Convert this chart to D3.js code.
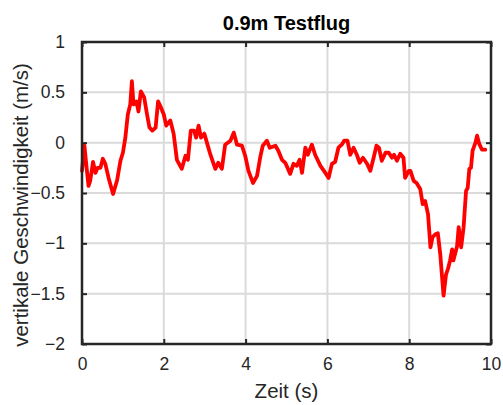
<!DOCTYPE html>
<html>
<head>
<meta charset="utf-8">
<script src="https://cdn.jsdelivr.net/npm/d3@7"></script>
<style>
  body { margin: 0; background: #fff; }
  svg { display: block; font-family: "Liberation Sans", Arial, sans-serif; }
</style>
</head>
<body>
<div id="chart"></div>
<script>
// time (s) and vertical velocity (m/s)
const zeit = [0.00, 0.03, 0.06, 0.10, 0.16, 0.20, 0.27, 0.33, 0.38, 0.45, 0.51, 0.57, 0.65, 0.76, 0.86,
  0.94, 1.00, 1.06, 1.12, 1.18, 1.22, 1.26, 1.33, 1.38, 1.44, 1.52, 1.59, 1.65, 1.72, 1.80, 1.86, 1.93,
  2.00, 2.06, 2.16, 2.24, 2.32, 2.44, 2.53, 2.59, 2.66, 2.74, 2.79, 2.85, 2.91, 2.99, 3.04, 3.14, 3.26,
  3.33, 3.42, 3.50, 3.63, 3.71, 3.79, 3.91, 3.99, 4.07, 4.18, 4.28, 4.36, 4.42, 4.52, 4.59, 4.73, 4.80,
  4.89, 4.97, 5.09, 5.17, 5.25, 5.32, 5.38, 5.46, 5.52, 5.62, 5.70, 5.83, 5.95, 6.03, 6.11, 6.19, 6.27,
  6.35, 6.41, 6.49, 6.56, 6.64, 6.72, 6.79, 6.87, 6.97, 7.05, 7.13, 7.20, 7.26, 7.33, 7.42, 7.50, 7.58,
  7.63, 7.70, 7.78, 7.86, 7.90, 7.99, 8.03, 8.11, 8.18, 8.27, 8.33, 8.39, 8.46, 8.52, 8.57, 8.64, 8.70,
  8.76, 8.84, 8.90, 8.95, 9.00, 9.05, 9.08, 9.17, 9.21, 9.27, 9.33, 9.39, 9.43, 9.47, 9.51, 9.55, 9.62,
  9.66, 9.71, 9.78, 9.86];
const geschw = [-0.28, -0.15, -0.03, -0.20, -0.43, -0.38, -0.19, -0.30, -0.25, -0.25, -0.16, -0.21, -0.35, -0.51, -0.37,
  -0.18, -0.10, 0.05, 0.28, 0.38, 0.61, 0.38, 0.41, 0.31, 0.51, 0.45, 0.28, 0.15, 0.12, 0.15, 0.41, 0.35,
  0.28, 0.17, 0.22, 0.09, -0.17, -0.26, -0.13, -0.17, 0.12, 0.12, 0.05, 0.17, 0.05, 0.09, 0.02, -0.12, -0.26,
  -0.20, -0.26, -0.02, 0.02, 0.10, -0.02, -0.03, -0.13, -0.28, -0.40, -0.33, -0.14, -0.03, 0.02, -0.05, -0.03, -0.08,
  -0.17, -0.20, -0.31, -0.21, -0.23, -0.17, -0.30, -0.05, -0.12, -0.02, -0.12, -0.23, -0.30, -0.35, -0.21, -0.19, -0.05,
  -0.02, 0.02, 0.02, -0.12, -0.05, -0.12, -0.20, -0.15, -0.21, -0.28, -0.15, -0.03, -0.05, -0.18, -0.10, -0.10, -0.15,
  -0.12, -0.18, -0.11, -0.15, -0.35, -0.28, -0.28, -0.38, -0.40, -0.46, -0.61, -0.58, -0.71, -1.04, -0.94, -0.91, -0.90,
  -1.11, -1.52, -1.31, -1.25, -1.17, -1.06, -1.17, -1.03, -0.84, -1.04, -0.84, -0.48, -0.45, -0.26, -0.25, -0.08, 0.00,
  0.07, -0.01, -0.07, -0.07];

const xTicks = [0, 2, 4, 6, 8, 10];
const yTicks = [-2, -1.5, -1, -0.5, 0, 0.5, 1];

const width = 503, height = 405;
const margin = { top: 42, right: 12, bottom: 61, left: 82 };
const innerW = width - margin.left - margin.right;
const innerH = height - margin.top - margin.bottom;

const svg = d3.select('#chart').append('svg')
  .attr('width', width)
  .attr('height', height);

const g = svg.append('g')
  .attr('transform', `translate(${margin.left},${margin.top})`);

const x = d3.scaleLinear().domain([0, 10]).range([0, innerW]);
const y = d3.scaleLinear().domain([-2, 1]).range([innerH, 0]);

// grid
g.append('g').selectAll('line').data(xTicks).enter().append('line')
  .attr('x1', d => x(d)).attr('x2', d => x(d))
  .attr('y1', 0).attr('y2', innerH)
  .attr('stroke', '#dadada').attr('stroke-width', 2);
g.append('g').selectAll('line').data(yTicks).enter().append('line')
  .attr('x1', 0).attr('x2', innerW)
  .attr('y1', d => y(d)).attr('y2', d => y(d))
  .attr('stroke', '#dadada').attr('stroke-width', 2);

// data line
const pts = zeit.map((t, i) => [t, geschw[i]]);
g.append('path')
  .datum(pts)
  .attr('fill', 'none')
  .attr('stroke', '#ff0000')
  .attr('stroke-width', 3.8)
  .attr('stroke-linejoin', 'round')
  .attr('stroke-linecap', 'round')
  .attr('d', d3.line().x(d => x(d[0])).y(d => y(d[1])));

// axes, ticks pointing inward, box on all sides
const axisColor = '#262626';
function styleAxis(sel) {
  sel.select('.domain').remove();
  sel.selectAll('.tick line').attr('stroke', axisColor).attr('stroke-width', 2);
  sel.selectAll('.tick text').attr('fill', axisColor).style('font-size', '17.5px');
}

g.append('g')
  .attr('transform', `translate(0,${innerH})`)
  .call(d3.axisBottom(x).tickValues(xTicks).tickSize(-5).tickPadding(14).tickFormat(d3.format('d')))
  .call(styleAxis);

g.append('g')
  .call(d3.axisTop(x).tickValues(xTicks).tickSize(-5).tickFormat(''))
  .call(styleAxis);

g.append('g')
  .call(d3.axisLeft(y).tickValues(yTicks).tickSize(-5).tickPadding(17).tickFormat(d => d3.format('')(d)))
  .call(styleAxis);

g.append('g')
  .attr('transform', `translate(${innerW},0)`)
  .call(d3.axisRight(y).tickValues(yTicks).tickSize(-5).tickFormat(''))
  .call(styleAxis);

g.append('rect')
  .attr('width', innerW).attr('height', innerH)
  .attr('fill', 'none')
  .attr('stroke', axisColor)
  .attr('stroke-width', 2.5);

// title and labels
svg.append('text')
  .attr('x', margin.left + innerW / 2).attr('y', 30)
  .attr('text-anchor', 'middle')
  .style('font-size', '20px').style('font-weight', 'bold')
  .attr('fill', '#000')
  .text('0.9m Testflug');

svg.append('text')
  .attr('x', margin.left + innerW / 2).attr('y', 398)
  .attr('text-anchor', 'middle')
  .style('font-size', '20.5px')
  .attr('fill', axisColor)
  .text('Zeit (s)');

svg.append('text')
  .attr('transform', `translate(28,${margin.top + innerH / 2 + 12}) rotate(-90)`)
  .attr('text-anchor', 'middle')
  .style('font-size', '20.5px')
  .attr('fill', axisColor)
  .text('vertikale Geschwindigkeit (m/s)');
</script>
</body>
</html>
